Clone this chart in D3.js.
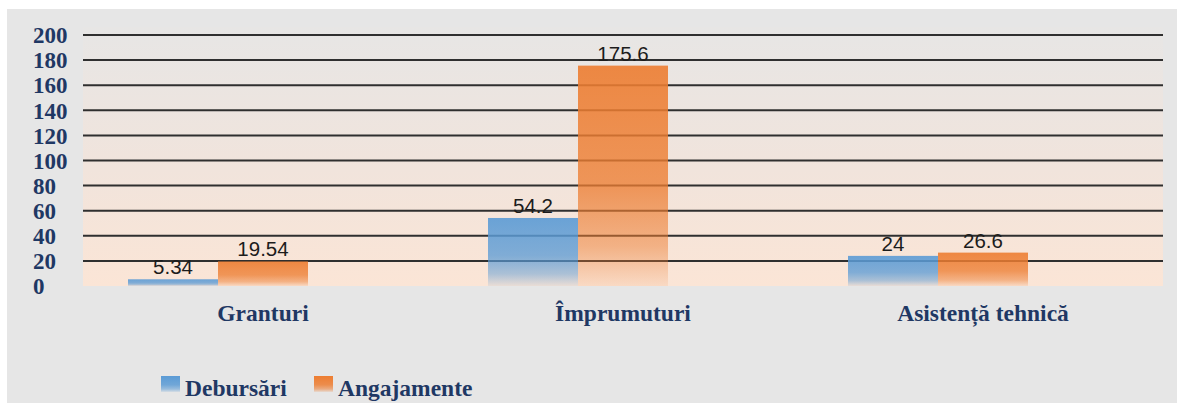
<!DOCTYPE html>
<html>
<head>
<meta charset="utf-8">
<script src="https://cdn.jsdelivr.net/npm/d3@7"></script>
<style>
  html, body { margin: 0; padding: 0; background: #ffffff; }
  svg { display: block; }
  .serif { font-family: 'Liberation Serif', 'Times New Roman', serif; font-weight: bold; }
</style>
</head>
<body>
<svg id="chart"></svg>
<script>
// data
const categories = ['Granturi', 'Împrumuturi', 'Asistență tehnică'];
const seriesNames = ['Debursări', 'Angajamente'];
const debursari = [5.34, 54.2, 24];
const angajamente = [19.54, 175.6, 26.6];
const valueLabels = [['5.34', '54.2', '24'], ['19.54', '175.6', '26.6']];
const yTicks = [0, 20, 40, 60, 80, 100, 120, 140, 160, 180, 200];

const width = 1177, height = 403;
const margin = { top: 35, right: 14, bottom: 117, left: 83 };
const innerW = width - margin.left - margin.right;
const innerH = height - margin.top - margin.bottom;

const navy = '#1f3864';
const colors = ['#5b9bd5', '#ed7d31'];

const svg = d3.select('#chart')
    .attr('width', width)
    .attr('height', height);

// gradients
const defs = svg.append('defs');

const bgGrad = defs.append('linearGradient')
    .attr('id', 'plotBg')
    .attr('x1', 0).attr('y1', 0).attr('x2', 0).attr('y2', 1);
bgGrad.append('stop').attr('offset', '0%').attr('stop-color', '#e7e6e5');
bgGrad.append('stop').attr('offset', '55%').attr('stop-color', '#f1e4dc');
bgGrad.append('stop').attr('offset', '100%').attr('stop-color', '#fbe5d6');

colors.forEach((c, i) => {
    const g = defs.append('linearGradient')
        .attr('id', 'barGrad' + i)
        .attr('x1', 0).attr('y1', 0).attr('x2', 0).attr('y2', 1);
    g.append('stop').attr('offset', '0%').attr('stop-color', c).attr('stop-opacity', 1);
    g.append('stop').attr('offset', '55%').attr('stop-color', c).attr('stop-opacity', 0.85);
    g.append('stop').attr('offset', '82%').attr('stop-color', c).attr('stop-opacity', 0.55);
    g.append('stop').attr('offset', '100%').attr('stop-color', c).attr('stop-opacity', 0.12);
});

// outer grey panel (white strip on top and left)
svg.append('rect')
    .attr('x', 7).attr('y', 9)
    .attr('width', width - 7).attr('height', height - 9)
    .attr('fill', '#e6e6e6');

const chart = svg.append('g')
    .attr('transform', `translate(${margin.left},${margin.top})`);

// scales - bars sit a bit left of centre in each slot
const xScale = d3.scaleBand()
    .domain(categories)
    .range([0, innerW])
    .paddingInner(0.5)
    .paddingOuter(0.25)
    .align(0.25);

const xSub = d3.scaleBand()
    .domain(seriesNames)
    .range([0, xScale.bandwidth()]);

const yScale = d3.scaleLinear()
    .domain([0, 200])
    .range([innerH, 0]);

// plot area background
chart.append('rect')
    .attr('x', 0)
    .attr('y', yScale(200) - 8)
    .attr('width', innerW)
    .attr('height', innerH + 8)
    .attr('fill', 'url(#plotBg)');

// gridlines
chart.append('g')
    .attr('class', 'grid')
    .selectAll('line')
    .data(yTicks.filter(d => d > 0))
    .join('line')
    .attr('x1', 0)
    .attr('x2', innerW)
    .attr('y1', d => yScale(d))
    .attr('y2', d => yScale(d))
    .attr('stroke', '#2f2f2f')
    .attr('stroke-width', 2);

// bars
const rows = categories.map((c, i) => ({ cat: c, values: [debursari[i], angajamente[i]], idx: i }));

const groups = chart.selectAll('.cat')
    .data(rows)
    .join('g')
    .attr('class', 'cat')
    .attr('transform', d => `translate(${xScale(d.cat)},0)`);

groups.selectAll('rect')
    .data(d => d.values.map((v, s) => ({ v, s })))
    .join('rect')
    .attr('x', d => xSub(seriesNames[d.s]))
    .attr('width', xSub.bandwidth())
    .attr('y', d => yScale(d.v))
    .attr('height', d => innerH - yScale(d.v))
    .attr('fill', d => `url(#barGrad${d.s})`)
    .attr('fill-opacity', 0.9);

// value labels
groups.selectAll('text.val')
    .data(d => d.values.map((v, s) => ({ v, s, idx: d.idx })))
    .join('text')
    .attr('class', 'val')
    .attr('x', d => xSub(seriesNames[d.s]) + xSub.bandwidth() / 2)
    .attr('y', d => yScale(d.v) - 5)
    .attr('text-anchor', 'middle')
    .style('font-family', 'Liberation Sans, Arial, sans-serif')
    .style('font-size', '20.5px')
    .attr('fill', '#1c1c1c')
    .text(d => valueLabels[d.s][d.idx]);

// y axis labels (left aligned)
svg.append('g')
    .selectAll('text')
    .data(yTicks)
    .join('text')
    .attr('class', 'serif')
    .attr('x', 33)
    .attr('y', d => margin.top + yScale(d))
    .attr('dy', '0.36em')
    .style('font-size', '23px')
    .attr('fill', navy)
    .text(d => d);

// category labels (centred under the second bar)
chart.append('g')
    .selectAll('text')
    .data(categories)
    .join('text')
    .attr('class', 'serif')
    .attr('x', d => xScale(d) + xSub(seriesNames[1]) + xSub.bandwidth() / 2)
    .attr('y', innerH + 35)
    .attr('text-anchor', 'middle')
    .style('font-size', '23.5px')
    .attr('fill', navy)
    .text(d => d);

// legend
const legendX = [161, 314];
const legend = svg.append('g')
    .selectAll('g')
    .data(seriesNames)
    .join('g')
    .attr('transform', (d, i) => `translate(${legendX[i]},376)`);

legend.append('rect')
    .attr('width', 19)
    .attr('height', 16)
    .attr('fill', (d, i) => `url(#barGrad${i})`);

legend.append('text')
    .attr('class', 'serif')
    .attr('x', 24)
    .attr('y', 20)
    .style('font-size', '23.5px')
    .attr('fill', navy)
    .text(d => d);
</script>
</body>
</html>
